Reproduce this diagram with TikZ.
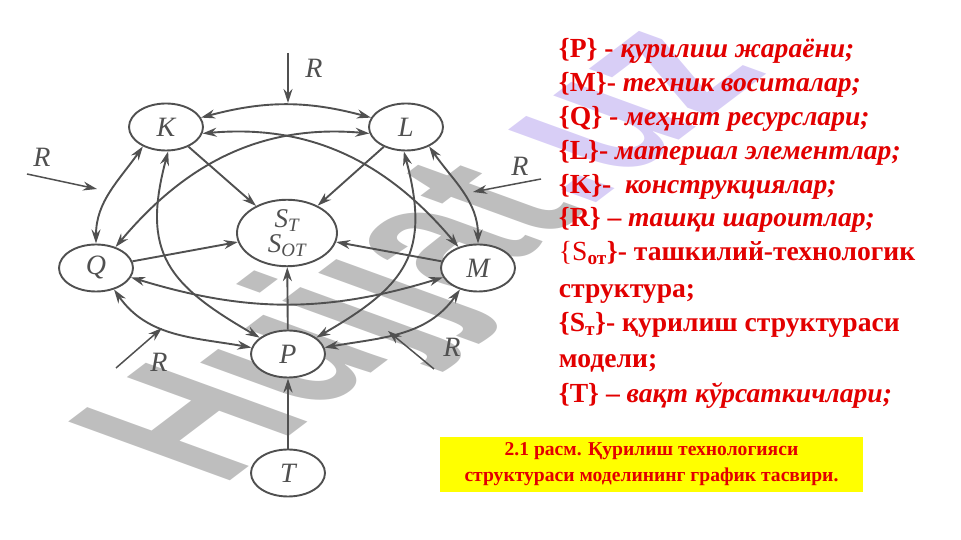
\documentclass[tikz,border=0pt]{standalone}
\usepackage{fontspec}
\setmainfont{Liberation Serif}
\newfontfamily\wmfont{Liberation Sans}
\usetikzlibrary{arrows.meta, shapes.geometric, positioning}

\definecolor{linegray}{RGB}{80,80,80}
\definecolor{wmgray}{RGB}{190,190,190}
\definecolor{wmlilac}{RGB}{216,206,246}
\definecolor{textred}{RGB}{226,0,0}
\definecolor{capyellow}{RGB}{255,255,0}

\begin{document}
\begin{tikzpicture}[x=1pt, y=1pt, line width=1.9pt, color=linegray,
        >={Stealth[length=14pt, width=9pt]},
        main/.style = {draw, fill=white, ellipse, minimum width=74pt, minimum height=47pt, inner sep=0pt, font=\fontsize{28}{28}\selectfont\itshape},
        link/.style = {<->},
        ext/.style = {->, line width=1.5pt},
        rlabel/.style = {font=\fontsize{28}{28}\selectfont\itshape},
        legend/.style = {anchor=base west, inner sep=0pt, text=textred, font=\fontsize{27.6}{30}\selectfont\bfseries}]
    \useasboundingbox (0,0) rectangle (961,540);

    % watermark
    \begin{scope}[cm={1.32,1.0,-2.35,0.855,(220,52)}]
        \node[anchor=base west, inner sep=0pt, transform shape, font=\wmfont\bfseries\fontsize{100}{100}\selectfont] (wm) at (0,0) {\textcolor{wmgray}{Hujjat}\textcolor{wmlilac}{.uz}};
    \end{scope}

    \node[main] (K) at (166,413) {K};
    \node[main] (L) [node distance=240pt, right of=K] {L};
    \node[main, minimum width=100pt, minimum height=66pt, align=center, font=\fontsize{27}{25}\selectfont\itshape] (S) at (287,307) {S\textsubscript{T}\\S\textsubscript{OT}};
    \node[main] (Q) at (96,272) {Q};
    \node[main] (M) [node distance=382pt, right of=Q] {M};
    \node[main] (P) at (288,186) {P};
    \node[main] (T) [node distance=119pt, below of=P] {T};

    \draw[link] (K.15) to[bend left=15] (L.165);
    \draw[link] (K.-10) to[out=5, in=130] (M.133);
    \draw[link] (L.190) to[out=175, in=50] (Q.47);
    \draw[link] (K.220) to[out=235, in=90] (Q.90);
    \draw[link] (L.-40) to[out=-55, in=90] (M.90);
    \draw[link] (Q.-15) to[bend right=17] (M.195);
    \draw[link] (Q.-50) to[out=-55, in=170] (P.170);
    \draw[link] (M.-130) to[out=-125, in=10] (P.10);
    \draw[link] (K.-85) to[out=-105, in=150, looseness=1.3] (P.150);
    \draw[link] (L.-95) to[out=-75, in=30, looseness=1.3] (P.30);

    \draw[->] (K) -- (S);
    \draw[->] (L) -- (S);
    \draw[->] (Q) -- (S);
    \draw[->] (M) -- (S);
    \draw[->] (P) -- (S);
    \draw[->, line width=2.4pt] (T) -- (P);

    % outer conditions R
    \coordinate (rT) at (288,487);
    \coordinate (rTend) at (288,437);
    \coordinate (rL) at (27,366);
    \coordinate (rLend) at (97,351);
    \coordinate (rR) at (541,361);
    \coordinate (rRend) at (473,348);
    \coordinate (rBL) at (116,172);
    \coordinate (rBLend) at (162,212);
    \coordinate (rBR) at (434,171);
    \coordinate (rBRend) at (388,209);
    \draw[ext] (rT) -- (rTend);
    \draw[ext] (rL) -- (rLend);
    \draw[ext] (rR) -- (rRend);
    \draw[ext] (rBL) -- (rBLend);
    \draw[ext] (rBR) -- (rBRend);
    \node[rlabel] (rTlab) at (314,472) {R};
    \node[rlabel] (rLlab) at (42,383) {R};
    \node[rlabel] (rRlab) at (520,374) {R};
    \node[rlabel] (rBLlab) at (159,178) {R};
    \node[rlabel] (rBRlab) at (452,193) {R};

    % legend
    \node[legend] (lP) at (558,482) {\{P\} - \textit{қурилиш жараёни;}};
    \node[legend] (lM) at (558,448) {\{M\}- \textit{техник воситалар;}};
    \node[legend] (lQ) at (558,414) {\{Q\} - \textit{меҳнат ресурслари;}};
    \node[legend] (lL) at (558,380) {\{L\}- \textit{материал элементлар;}};
    \node[legend] (lK) at (558,346) {\{K\}-\ \ \textit{конструкциялар;}};
    \node[legend] (lR) at (558,313) {\{R\} – \textit{ташқи шароитлар;}};
    \node[legend] (lSot) at (558,279) {{\mdseries\{S}\textsubscript{от}\}- ташкилий-технологик};
    \node[legend] (lSot2) at (558,242) {структура;};
    \node[legend] (lSt) at (558,208) {\{S\textsubscript{т}\}- қурилиш структураси};
    \node[legend] (lSt2) at (558,172) {модели;};
    \node[legend] (lT) at (558,137) {\{T\} – \textit{вақт кўрсаткичлари;}};

    \node[fill=capyellow, minimum width=423pt, minimum height=55pt, inner sep=0pt, text=textred, align=center, font=\fontsize{19.6}{26}\selectfont\bfseries] (cap) at (651.5,75.5) {2.1 расм. Қурилиш технологияси\\структураси моделининг график тасвири.};
\end{tikzpicture}
\end{document}
